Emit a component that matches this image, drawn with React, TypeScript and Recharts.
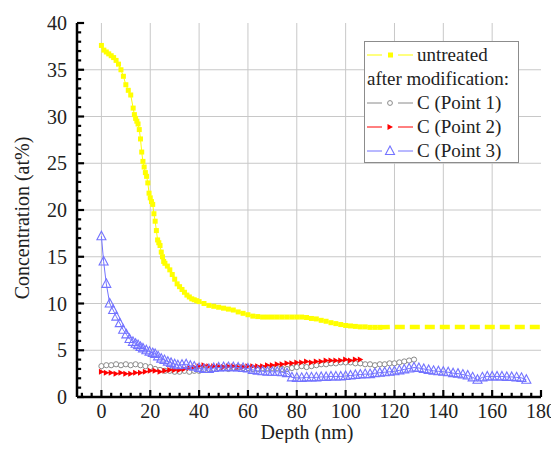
import React from 'react';
import { ScatterChart, Scatter, XAxis, YAxis, ReferenceLine } from 'recharts';

// untreated sample (yellow squares)
const untreatedDepth = [
    0, 1, 2, 3, 4, 5, 6, 7, 8, 9, 10, 11, 12, 13, 13.5, 14, 14.5, 15, 15.5, 16, 16.5, 17, 17.5, 18, 18.5,
    19, 19.5, 20, 20.5, 21, 21.5, 22, 22.5, 23, 23.5, 24, 24.5, 25, 25.5, 26, 27, 28, 29, 30, 31, 32, 33,
    34, 35, 36, 37, 38, 39, 40, 42, 44, 46, 48, 50, 52, 54, 56, 58, 60, 62, 64, 66, 68, 70, 72, 74, 76,
    78, 80, 82, 84, 86, 88, 90, 92, 94, 96, 98, 100, 102, 104, 106, 108, 110, 112, 114,
];
const untreatedConc = [
    37.6, 37.1, 36.9, 36.7, 36.5, 36.3, 36.0, 35.6, 35.0, 34.3, 33.4, 32.8, 32.3, 30.9, 30.2, 29.8, 29.5, 29.2, 28.6, 27.6, 26.2, 25.2, 24.6, 24.0, 23.6,
    22.9, 21.8, 21.3, 20.9, 20.6, 19.6, 18.8, 17.8, 16.8, 16.5, 16.2, 15.5, 15.0, 14.5, 14.3, 14.0, 13.6, 13.1, 12.6, 12.1, 11.8, 11.5,
    11.2, 10.9, 10.7, 10.5, 10.4, 10.3, 10.2, 10.0, 9.8, 9.7, 9.6, 9.5, 9.4, 9.3, 9.1, 8.95, 8.8, 8.65, 8.6, 8.55, 8.55, 8.55, 8.55, 8.55, 8.55,
    8.55, 8.55, 8.55, 8.5, 8.4, 8.35, 8.2, 8.1, 7.95, 7.85, 7.75, 7.65, 7.6, 7.55, 7.5, 7.5, 7.45, 7.45, 7.45,
];
const untreatedTailDepth = [114, 120, 130, 140, 150, 160, 170, 180];
const untreatedTailConc = [7.45, 7.5, 7.5, 7.5, 7.5, 7.5, 7.5, 7.5];

// C (Point 1), grey open circles
const point1Depth = [
    0, 2, 4, 6, 8, 10, 12, 14, 16, 18, 20, 22, 24, 26, 28, 30, 32, 34, 36, 38, 40, 42, 44, 46, 48, 50, 52, 54, 56, 58, 60, 62,
    64, 66, 68, 70, 72, 74, 76, 78, 80, 82, 84, 86, 88, 90, 92, 94, 96, 98, 100, 102, 104, 106, 108, 110, 112, 114, 116, 118, 120, 122, 124, 126, 128,
];
const point1Conc = [
    3.3, 3.4, 3.4, 3.5, 3.4, 3.5, 3.4, 3.5, 3.4, 3.3, 3.2, 3.0, 2.9, 2.8, 2.8, 2.7, 2.7, 2.8, 2.7, 2.8, 2.8, 2.9, 3.0, 3.0, 3.1, 3.1, 3.0, 3.1, 3.2, 3.1, 3.1, 3.0,
    3.0, 3.1, 3.1, 3.1, 3.1, 3.0, 3.0, 3.1, 3.2, 3.3, 3.2, 3.3, 3.4, 3.5, 3.5, 3.6, 3.6, 3.7, 3.7, 3.7, 3.6, 3.6, 3.5, 3.5, 3.4, 3.5, 3.5, 3.6, 3.6, 3.7, 3.8, 3.9, 4.0,
];

// C (Point 2), red triangles
const point2Depth = [
    0, 2, 4, 6, 8, 10, 12, 14, 16, 18, 20, 22, 24, 26, 28, 30, 32, 34, 36, 38, 40, 42, 44, 46, 48, 50, 52,
    54, 56, 58, 60, 62, 64, 66, 68, 70, 72, 74, 76, 78, 80, 82, 84, 86, 88, 90, 92, 94, 96, 98, 100, 102, 104, 106,
];
const point2Conc = [
    2.7, 2.6, 2.6, 2.5, 2.6, 2.5, 2.5, 2.6, 2.6, 2.7, 2.8, 2.8, 2.7, 2.8, 2.9, 2.9, 2.9, 3.0, 3.1, 3.2, 3.3, 3.4, 3.3, 3.3, 3.3, 3.2, 3.3,
    3.3, 3.2, 3.2, 3.3, 3.3, 3.3, 3.3, 3.4, 3.4, 3.5, 3.5, 3.6, 3.6, 3.7, 3.7, 3.8, 3.7, 3.8, 3.8, 3.9, 3.9, 3.9, 3.9, 4.0, 3.9, 4.0, 4.0,
];

// C (Point 3), blue open triangles
const point3Depth = [
    0, 0.9, 2.0, 3.4, 4.8, 6.1, 7.5, 8.9, 10.2, 11.5, 12.9, 14, 15, 16, 17, 18.4, 19.7, 21, 22, 23.2, 24.5, 25.8, 27.2, 28.5, 30, 31.3,
    33, 34.7, 36.4, 38, 40, 42, 44, 46, 48, 50, 52, 54, 56, 58, 60, 62, 64, 66, 68, 70, 72, 74, 76, 78, 80, 82, 84, 86, 88, 90,
    92, 94, 96, 98, 100, 102, 104, 106, 108, 110, 112, 114, 116, 118, 120, 122, 124, 126, 128, 130, 132, 134, 136, 138, 140, 142,
    144, 146, 148, 150, 152, 154, 156, 158, 160, 162, 164, 166, 168, 170, 172, 174,
];
const point3Conc = [
    17.2, 14.5, 12.1, 10.0, 9.3, 8.6, 7.9, 7.2, 6.7, 6.2, 5.9, 5.7, 5.55, 5.35, 5.2, 5.0, 4.85, 4.7, 4.6, 4.35, 4.1, 3.95, 3.78, 3.65, 3.5, 3.4,
    3.45, 3.5, 3.35, 3.25, 3.1, 3.0, 3.0, 3.1, 3.15, 3.2, 3.2, 3.2, 3.15, 3.1, 3.05, 2.9, 2.8, 2.75, 2.7, 2.7, 2.7, 2.65, 2.55, 2.1, 2.05, 2.05, 2.1, 2.1, 2.1, 2.15,
    2.15, 2.2, 2.2, 2.2, 2.25, 2.3, 2.35, 2.4, 2.45, 2.45, 2.55, 2.6, 2.65, 2.7, 2.75, 2.85, 2.95, 3.05, 3.15, 3.1, 3.0, 2.9, 2.8, 2.75, 2.7, 2.65,
    2.55, 2.5, 2.4, 2.3, 2.1, 1.85, 2.1, 2.2, 2.2, 2.2, 2.2, 2.15, 2.15, 2.1, 2.05, 1.85,
];

const X_DOMAIN: [number, number] = [-10, 180];
const Y_DOMAIN: [number, number] = [0, 40];
const xLabels = [0, 20, 40, 60, 80, 100, 120, 140, 160, 180];
const yLabels = [0, 5, 10, 15, 20, 25, 30, 35, 40];
const X_MINOR = 4;
const Y_MINOR = 1;

const FONT = "'Liberation Serif', 'Times New Roman', serif";
const YELLOW = '#ffff00';
const GREY = '#8a8a8a';
const RED = '#ff0000';
const BLUE = '#7373ff';

const toPoints = (xs: number[], ys: number[]) => xs.map((x, i) => ({ x, y: ys[i] }));

// minor tick positions (majors coincide with the labelled ticks)
const xTickPos: number[] = [];
for (let v = -8; v <= 180; v += X_MINOR) xTickPos.push(v);
const yTickPos: number[] = [];
for (let v = 0; v <= 40; v += Y_MINOR) yTickPos.push(v);
// inward tick lengths in axis units (~7px major, ~4px minor)
const X_TICK_LEN = { major: 0.75, minor: 0.45 };
const Y_TICK_LEN = { major: 2.9, minor: 1.7 };

// eslint-disable-next-line @typescript-eslint/no-explicit-any
const renderXTick = ({ x, y, payload }: any) => (
    <text key={`xt-${payload.value}`} x={x} y={y + 21} textAnchor="middle" style={{ fontSize: 20, fontFamily: FONT, fill: '#222' }}>
        {payload.value}
    </text>
);

// eslint-disable-next-line @typescript-eslint/no-explicit-any
const renderYTick = ({ x, y, payload }: any) => (
    <text key={`yt-${payload.value}`} x={x - 10} y={y + 7} textAnchor="end" style={{ fontSize: 20, fontFamily: FONT, fill: '#222' }}>
        {payload.value}
    </text>
);

// eslint-disable-next-line @typescript-eslint/no-explicit-any
const SquareDot = ({ cx, cy }: any) => <rect x={cx - 2.5} y={cy - 2.5} width={5} height={5} fill={YELLOW} />;
// eslint-disable-next-line @typescript-eslint/no-explicit-any
const CircleDot = ({ cx, cy }: any) => <circle cx={cx} cy={cy} r={2.6} fill="#fff" stroke={GREY} strokeWidth={1} />;
// eslint-disable-next-line @typescript-eslint/no-explicit-any
const RightTri = ({ cx, cy }: any) => (
    <polygon points={`${cx - 2.5},${cy - 3} ${cx + 3},${cy} ${cx - 2.5},${cy + 3}`} fill={RED} />
);
// eslint-disable-next-line @typescript-eslint/no-explicit-any
const OpenTri = ({ cx, cy }: any) => (
    <polygon points={`${cx},${cy - 5} ${cx + 4.5},${cy + 3.5} ${cx - 4.5},${cy + 3.5}`} fill="none" stroke={BLUE} strokeWidth={1.1} />
);
const NoDot = () => <g />;

function LegendMark({ color, children }: { color: string; children: React.ReactNode }) {
    return (
        <svg width={46} height={12} style={{ display: 'block' }}>
            <line x1={0} x2={15} y1={6} y2={6} stroke={color} strokeWidth={1} />
            <line x1={31} x2={46} y1={6} y2={6} stroke={color} strokeWidth={1} />
            {children}
        </svg>
    );
}

const rowStyle: React.CSSProperties = { height: 24, display: 'flex', alignItems: 'center', whiteSpace: 'nowrap' };

function ChartLegend() {
    return (
        <div
            style={{
                position: 'absolute', left: 364, top: 41, width: 155, height: 122, boxSizing: 'border-box',
                border: '1px solid #8c8c8c', background: '#fff', paddingTop: 1,
                fontFamily: FONT, fontSize: 19, color: '#222', lineHeight: '24px',
            }}
        >
            <div style={rowStyle}>
                <div style={{ width: 50, paddingLeft: 2 }}>
                    <LegendMark color={YELLOW}><rect x={21} y={3.5} width={5} height={5} fill={YELLOW} /></LegendMark>
                </div>
                <span>untreated</span>
            </div>
            <div style={{ ...rowStyle, paddingLeft: 2 }}>after modification:</div>
            <div style={rowStyle}>
                <div style={{ width: 50, paddingLeft: 2 }}>
                    <LegendMark color={GREY}><circle cx={23} cy={6} r={2.4} fill="#fff" stroke={GREY} /></LegendMark>
                </div>
                <span>C (Point 1)</span>
            </div>
            <div style={rowStyle}>
                <div style={{ width: 50, paddingLeft: 2 }}>
                    <LegendMark color={RED}><polygon points="20.5,3 26,6 20.5,9" fill={RED} /></LegendMark>
                </div>
                <span>C (Point 2)</span>
            </div>
            <div style={rowStyle}>
                <div style={{ width: 50, paddingLeft: 2 }}>
                    <LegendMark color={BLUE}><polygon points="23,1 27.5,9.5 18.5,9.5" fill="#fff" stroke={BLUE} strokeWidth={1.1} /></LegendMark>
                </div>
                <span>C (Point 3)</span>
            </div>
        </div>
    );
}

export default function App() {
    return (
        <div style={{ position: 'relative', margin: -8, width: 559, height: 451 }}>
            <ScatterChart width={559} height={451} margin={{ top: 23, right: 18, bottom: 0, left: 0 }}>
                <XAxis
                    xAxisId="top" orientation="top" type="number" domain={X_DOMAIN} height={0}
                    tick={false} tickLine={false} axisLine={{ stroke: '#000', strokeWidth: 2.5 }} allowDataOverflow
                />
                <YAxis
                    yAxisId="right" orientation="right" type="number" domain={Y_DOMAIN} width={0}
                    tick={false} tickLine={false} axisLine={{ stroke: '#000', strokeWidth: 2.5 }} allowDataOverflow
                />
                <XAxis
                    type="number" dataKey="x" domain={X_DOMAIN} ticks={xLabels} interval={0}
                    height={54} axisLine={{ stroke: '#000', strokeWidth: 2.5 }}
                    tickLine={false} tickSize={0} tickMargin={0} tick={renderXTick} allowDataOverflow
                    label={{
                        content: () => (
                            <text x={307} y={439} textAnchor="middle"
                                style={{ fontSize: 20, fontFamily: FONT, fill: '#222' }}>Depth (nm)</text>
                        ),
                    }}
                />
                <YAxis
                    type="number" dataKey="y" domain={Y_DOMAIN} ticks={yLabels} interval={0}
                    width={77} axisLine={{ stroke: '#000', strokeWidth: 2.5 }}
                    tickLine={false} tickSize={0} tickMargin={0} tick={renderYTick} allowDataOverflow
                    label={{
                        content: () => (
                            <text transform="translate(29, 218) rotate(-90)" textAnchor="middle"
                                style={{ fontSize: 20, fontFamily: FONT, fill: '#222' }}>Concentration (at%)</text>
                        ),
                    }}
                />
                {xLabels.slice(0, -1).map(v => (
                    <ReferenceLine key={`gx-${v}`} x={v} stroke="#c8c8c8" strokeWidth={1} />
                ))}
                {yLabels.slice(1, -1).map(v => (
                    <ReferenceLine key={`gy-${v}`} y={v} stroke="#c8c8c8" strokeWidth={1} />
                ))}
                {xTickPos.map(v => {
                    const len = xLabels.includes(v) ? X_TICK_LEN.major : X_TICK_LEN.minor;
                    return (
                        <ReferenceLine key={`tx-${v}`} segment={[{ x: v, y: Y_DOMAIN[0] }, { x: v, y: Y_DOMAIN[0] + len }]}
                            stroke="#000" strokeWidth={2.2} ifOverflow="visible" />
                    );
                })}
                {yTickPos.map(v => {
                    const len = yLabels.includes(v) ? Y_TICK_LEN.major : Y_TICK_LEN.minor;
                    return (
                        <ReferenceLine key={`ty-${v}`} segment={[{ x: X_DOMAIN[0], y: v }, { x: X_DOMAIN[0] + len, y: v }]}
                            stroke="#000" strokeWidth={2.2} ifOverflow="visible" />
                    );
                })}
                <Scatter data={toPoints(point1Depth, point1Conc)} shape={<CircleDot />} line={{ stroke: GREY, strokeWidth: 1 }} isAnimationActive={false} />
                <Scatter data={toPoints(point2Depth, point2Conc)} shape={<RightTri />} line={{ stroke: RED, strokeWidth: 1 }} isAnimationActive={false} />
                <Scatter data={toPoints(point3Depth, point3Conc)} shape={<OpenTri />} line={{ stroke: BLUE, strokeWidth: 1 }} isAnimationActive={false} />
                <Scatter data={toPoints(untreatedDepth, untreatedConc)} shape={<SquareDot />} line={{ stroke: YELLOW, strokeWidth: 1 }} isAnimationActive={false} />
                <Scatter
                    data={toPoints(untreatedTailDepth, untreatedTailConc)} shape={<NoDot />}
                    line={{ stroke: YELLOW, strokeWidth: 4.5, strokeDasharray: '10 5' }} isAnimationActive={false}
                />
            </ScatterChart>
            <ChartLegend />
        </div>
    );
}
